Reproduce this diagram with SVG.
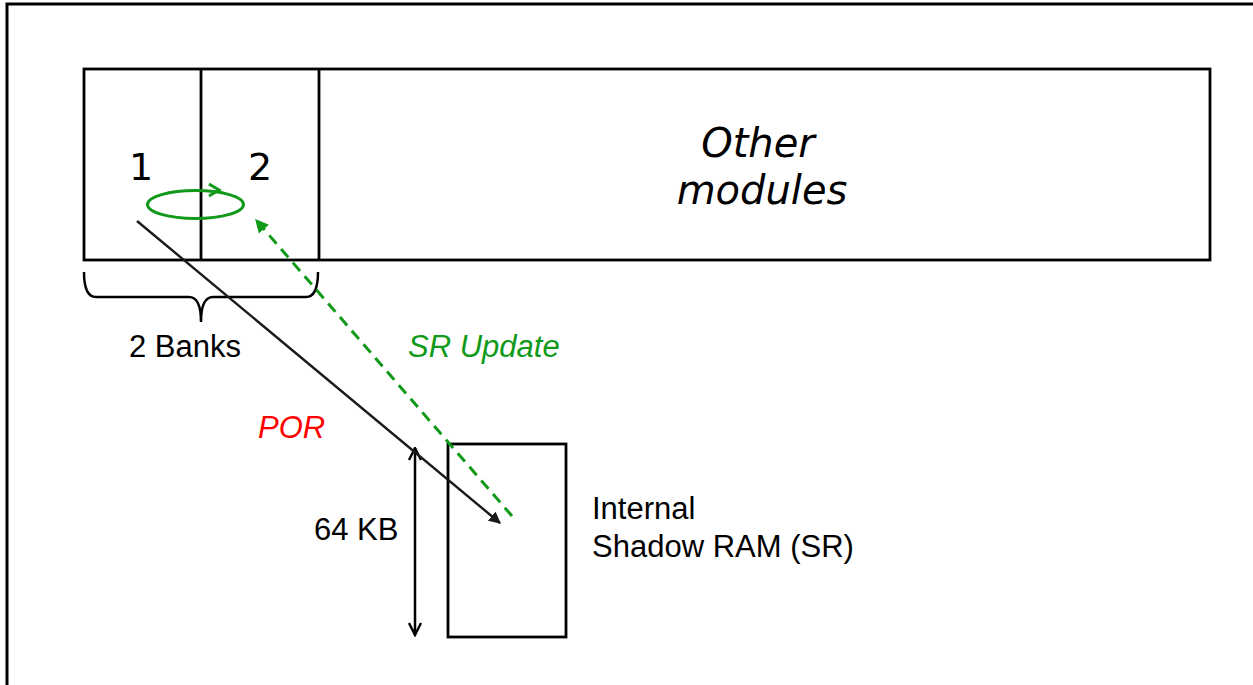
<svg xmlns="http://www.w3.org/2000/svg" width="1253" height="685" viewBox="0 0 1253 685">
<style>
.box{fill:none;stroke:#000;stroke-width:2.8}
.lbl{font-family:"Liberation Sans",Arial,sans-serif;font-size:31px;fill:#000}
.ver{font-family:"DejaVu Sans",Verdana,sans-serif;fill:#000}
.ital{font-style:italic}
</style>
<defs>
<marker id="ah" viewBox="0 0 10 10" refX="9" refY="5" markerWidth="5" markerHeight="5" orient="auto" markerUnits="strokeWidth"><path d="M0,0 L10,5 L0,10 z" fill="#1a1a1a"/></marker>
<marker id="ahg" viewBox="0 0 10 10" refX="9" refY="5" markerWidth="4.5" markerHeight="4.5" orient="auto" markerUnits="strokeWidth"><path d="M0,0 L10,5 L0,10 z" fill="#11991a"/></marker>
<marker id="ao" viewBox="0 0 10 10" refX="9" refY="5" markerWidth="6" markerHeight="6" orient="auto-start-reverse" markerUnits="strokeWidth"><path d="M1,1 L9,5 L1,9" fill="none" stroke="#000" stroke-width="1.6"/></marker>
</defs>
<rect width="1253" height="685" fill="#fff"/>
<path d="M7,685 V4 H1253" fill="none" stroke="#000" stroke-width="3"/>

<g id="modules">
<rect class="box" x="84" y="69" width="1126" height="191"/>
<line x1="201" y1="69" x2="201" y2="260" stroke="#000" stroke-width="2.8"/>
<line x1="319" y1="69" x2="319" y2="260" stroke="#000" stroke-width="2.8"/>
<text class="ver" x="758" y="157" font-size="40" font-style="italic" text-anchor="middle">Other</text>
<text class="ver" x="762" y="204" font-size="40" font-style="italic" text-anchor="middle">modules</text>
</g>
<g id="bank1"><text class="ver" x="141" y="180" font-size="38" text-anchor="middle">1</text></g>
<g id="bank2"><text class="ver" x="260" y="180" font-size="38" text-anchor="middle">2</text></g>

<g id="brace">
<path d="M84,272 Q84,297 96,297 H189 Q201,297 201,322 Q201,297 213,297 H306 Q318,297 318,272" fill="none" stroke="#000" stroke-width="2.5"/>
<text class="lbl" x="185" y="357" text-anchor="middle">2 Banks</text>
</g>

<g id="sr">
<rect class="box" x="448" y="444" width="118" height="193"/>
<text class="lbl" x="592" y="519">Internal</text>
<text class="lbl" x="592" y="557">Shadow RAM (SR)</text>
</g>

<g id="size">
<line x1="415" y1="448" x2="415" y2="635" stroke="#000" stroke-width="2.5" marker-start="url(#ao)" marker-end="url(#ao)"/>
<text class="lbl" x="314" y="540">64 KB</text>
</g>

<g id="connectors">
<ellipse cx="195.5" cy="204.5" rx="48" ry="14" fill="none" stroke="#11991a" stroke-width="3"/>
<path d="M209,184 L219,190 L209,196" fill="none" stroke="#11991a" stroke-width="3"/>
<line x1="137" y1="221" x2="500" y2="523" stroke="#1a1a1a" stroke-width="2.4" marker-end="url(#ah)"/>
<line x1="512" y1="516" x2="256" y2="220" stroke="#11991a" stroke-width="3" stroke-dasharray="11,7" marker-end="url(#ahg)"/>
<text class="lbl ital" x="408" y="357" style="fill:#11991a">SR Update</text>
<text class="lbl ital" x="258" y="438" style="fill:#ff0000">POR</text>
</g>
</svg>
